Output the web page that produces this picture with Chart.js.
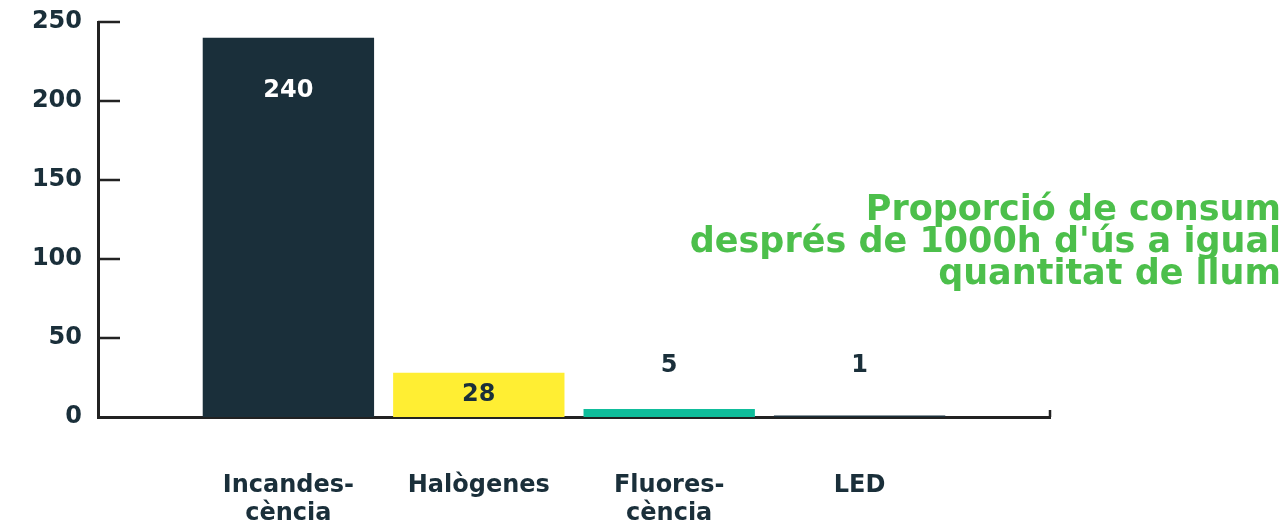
<!DOCTYPE html>
<html>
<head>
<meta charset="utf-8">
<script src="https://cdn.jsdelivr.net/npm/chart.js@4.4.0/dist/chart.umd.min.js"></script>
<style>
  html, body { margin: 0; padding: 0; background: #fff; }
  #wrap { width: 1286px; height: 520px; position: relative; }
</style>
</head>
<body>
<div id="wrap"><canvas id="chart"></canvas></div>
<script>
  // ===== Dades =====
  const categories = [["Incandes-", "cència"], "Halògenes", ["Fluores-", "cència"], "LED"];
  const consum = [240, 28, 5, 1];
  const barColors = ["#1a2f3a", "#ffee33", "#0fbd9b", "#1a2f3a"];
  const labelColors = ["#ffffff", "#1a2f3a", "#1a2f3a", "#1a2f3a"];
  const yTicks = [0, 50, 100, 150, 200, 250];
  const titleLines = ["Proporció de consum", "després de 1000h d'ús a igual", "quantitat de llum"];

  const FONT = "'DejaVu Sans', sans-serif";
  const DARK = "#1a2f3a";
  const AXIS = "#222222";

  // eix x amb un buit a cada extrem (com a l'original)
  const xLabels = [""].concat(categories, [""]);
  const xData = [null].concat(consum, [null]);
  const xColors = ["#fff"].concat(barColors, ["#fff"]);

  // ===== Marques de l'eix cap a dins + títol + etiquetes =====
  const extras = {
    id: "extras",
    afterDatasetsDraw(chart) {
      const ctx = chart.ctx;
      const y = chart.scales.y;
      const area = chart.chartArea;
      ctx.save();
      ctx.strokeStyle = AXIS;
      ctx.lineWidth = 2.5;
      ctx.beginPath();
      yTicks.forEach(v => {
        if (v === 0) return;
        const py = y.getPixelForValue(v);
        ctx.moveTo(area.left, py);
        ctx.lineTo(area.left + 22, py);
      });
      // petita marca al final de l'eix x
      ctx.moveTo(area.right, y.getPixelForValue(0));
      ctx.lineTo(area.right, y.getPixelForValue(0) - 7);
      ctx.stroke();

      // valors de les barres
      const meta = chart.getDatasetMeta(0);
      ctx.font = "bold 24px " + FONT;
      ctx.textAlign = "center";
      ctx.textBaseline = "middle";
      consum.forEach((v, i) => {
        const bar = meta.data[i + 1];
        const h = bar.base - bar.y;
        let ly;
        if (h > 200) ly = bar.y + 53;
        else if (h > 30) ly = (bar.y + bar.base) / 2;
        else ly = bar.base - 51;
        ctx.fillStyle = labelColors[i];
        ctx.fillText(String(v), bar.x, ly);
      });

      // títol verd
      ctx.font = "bold 35px " + FONT;
      ctx.fillStyle = "#4cbf4b";
      ctx.textAlign = "right";
      titleLines.forEach((t, i) => {
        ctx.fillText(t, 1281, 211 + i * 32);
      });
      ctx.restore();
    }
  };

  const ctx = document.getElementById("chart").getContext("2d");
  new Chart(ctx, {
    type: "bar",
    data: {
      labels: xLabels,
      datasets: [{
        data: xData,
        backgroundColor: xColors,
        borderWidth: 0,
        barPercentage: 0.9,
        categoryPercentage: 1
      }]
    },
    options: {
      responsive: true,
      maintainAspectRatio: false,
      animation: false,
      layout: { padding: { top: 17, right: 236, bottom: 0, left: 0 } },
      plugins: { legend: { display: false }, tooltip: { enabled: false } },
      scales: {
        x: {
          offset: false,
          border: { color: AXIS, width: 3 },
          grid: { display: false, drawTicks: false },
          ticks: {
            color: DARK,
            font: { family: FONT, size: 24, weight: "bold" },
            padding: 54,
            maxRotation: 0,
            autoSkip: false
          },
          afterFit(scale) { scale.height = 103; }
        },
        y: {
          min: 0,
          max: 250,
          border: { color: AXIS, width: 3 },
          grid: { display: false, drawTicks: false },
          ticks: {
            stepSize: 50,
            color: DARK,
            font: { family: FONT, size: 24, weight: "bold", lineHeight: 0.5 },
            padding: 16
          },
          afterFit(scale) { scale.width = 98; }
        }
      }
    },
    plugins: [extras]
  });
</script>
</body>
</html>
